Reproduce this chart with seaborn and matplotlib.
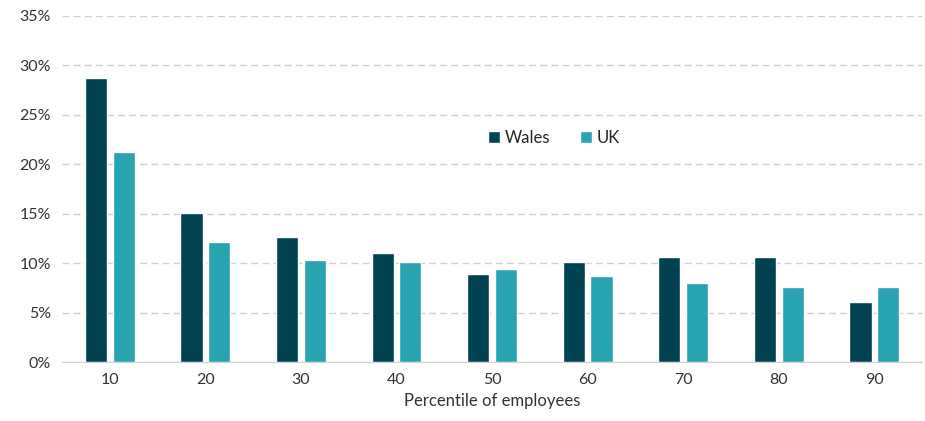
import matplotlib
matplotlib.use("Agg")
import matplotlib.pyplot as plt
import matplotlib.ticker as mticker
import pandas as pd
import seaborn as sns

# ── Data ─────────────────────────────────────────────────────────────────────
percentiles = ["10", "20", "30", "40", "50", "60", "70", "80", "90"]
wales = [28.7, 15.1, 12.6, 11.0, 8.9, 10.1, 10.6, 10.6, 6.1]
uk = [21.2, 12.1, 10.3, 10.1, 9.4, 8.7, 8.0, 7.6, 7.6]

C_WALES = "#004152"
C_UK = "#28a3b0"

df = pd.DataFrame({
    "Percentile": percentiles * 2,
    "Share": wales + uk,
    "Region": ["Wales"] * len(wales) + ["UK"] * len(uk),
})

sns.set_style("white")
plt.rcParams["font.family"] = ["Lato", "DejaVu Sans"]

fig = plt.figure(figsize=(9.25, 4.21), dpi=100)
ax = fig.add_axes([0.067, 0.14, 0.93, 0.822])

sns.barplot(
    data=df, x="Percentile", y="Share", hue="Region",
    palette={"Wales": C_WALES, "UK": C_UK}, saturation=1,
    width=0.58, gap=0.2, ax=ax, legend=True,
)

ax.set_ylim(0, 35)
ax.set_xlim(-0.5, len(percentiles) - 0.5)
ax.yaxis.set_major_locator(mticker.MultipleLocator(5))
ax.yaxis.set_major_formatter(mticker.FuncFormatter(lambda v, _: f"{v:.0f}%"))
ax.grid(True, axis="y", color="#d0d0d0", linestyle=(0, (5, 3)), linewidth=1)
ax.set_axisbelow(True)

for side in ["top", "right", "left"]:
    ax.spines[side].set_visible(False)
ax.spines["bottom"].set_color("#d0d0d0")
ax.tick_params(axis="both", length=0, labelsize=11.5, colors="#333333", pad=8)

ax.set_ylabel("")
ax.set_xlabel("Percentile of employees", fontsize=12, color="#333333", labelpad=4)

ax.legend(
    loc="center", bbox_to_anchor=(0.572, 0.648), ncol=2, frameon=False,
    fontsize=12, handlelength=0.7, handleheight=0.7, columnspacing=1.8,
    handletextpad=0.3,
)

fig.savefig("out.png", dpi=100, facecolor="white")
